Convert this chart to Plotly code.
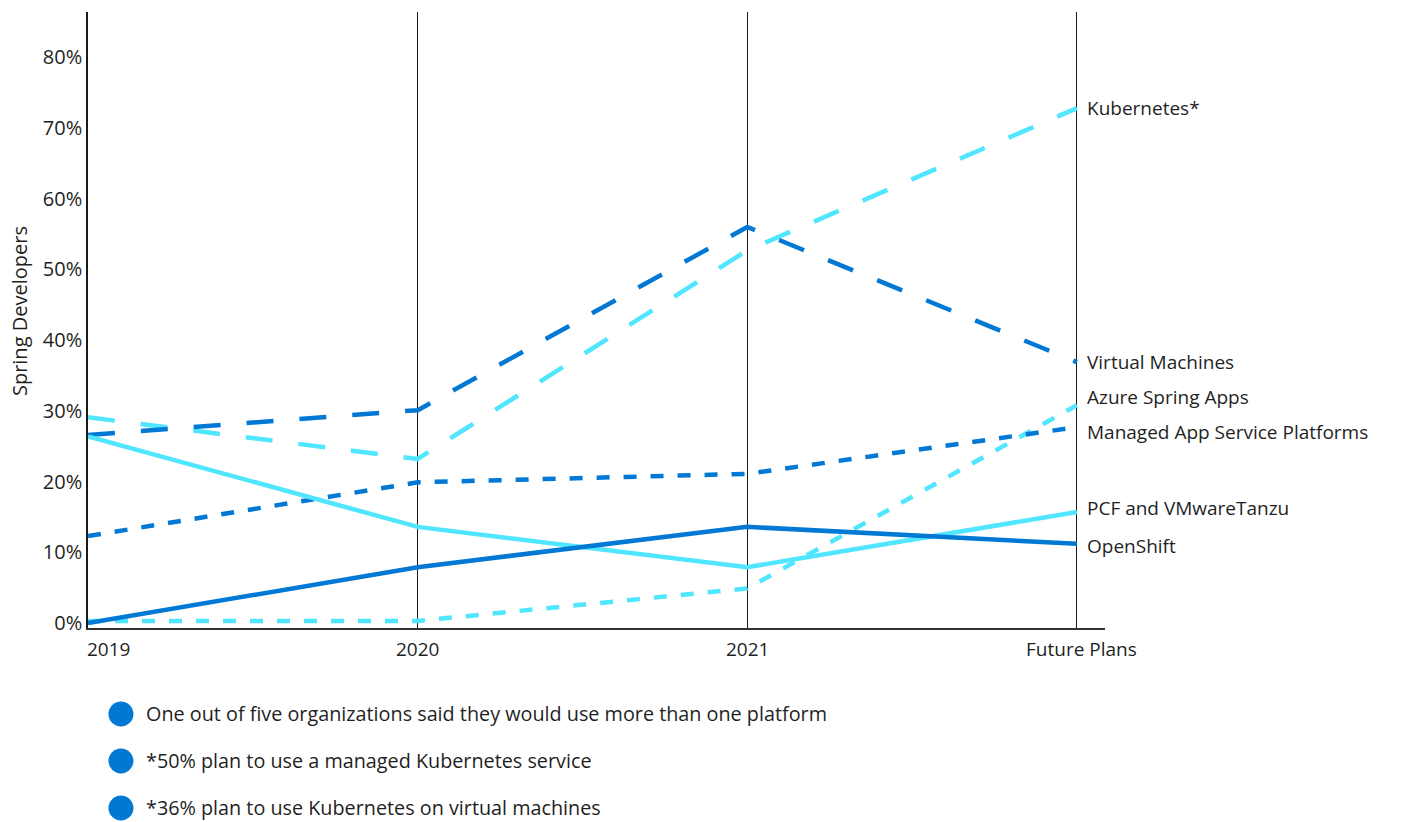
import plotly.graph_objects as go

# ---------------- data ----------------
categories = ["2019", "2020", "2021", "Future Plans"]
series_names = ["Kubernetes*", "Virtual Machines", "Azure Spring Apps",
                "Managed App Service Platforms", "PCF and VMwareTanzu", "OpenShift"]
kubernetes = [29.1, 23.2, 52.7, 72.8]
virtual_machines = [26.6, 30.1, 56.0, 36.9]
azure_spring_apps = [0.3, 0.3, 4.9, 30.8]
managed_app_service = [12.3, 19.9, 21.1, 27.7]
pcf_tanzu = [26.4, 13.6, 7.9, 15.7]
openshift = [0.0, 7.9, 13.6, 11.2]
y_tick_values = [0, 10, 20, 30, 40, 50, 60, 70, 80]
y_tick_labels = ["0%", "10%", "20%", "30%", "40%", "50%", "60%", "70%", "80%"]
notes = [
    "One out of five organizations said they would use more than one platform",
    "*50% plan to use a managed Kubernetes service",
    "*36% plan to use Kubernetes on virtual machines",
]

# ---------------- styles ----------------
DARK = "#0078D4"
CYAN = "#50E6FF"
TEXT = "#1f1f1f"
FONT = "Open Sans, Noto Sans, sans-serif"
LONG = "27px,26px"
SHORT = "13px,14px"

series = [
    (series_names[0], kubernetes, CYAN, LONG, 0),
    (series_names[1], virtual_machines, DARK, LONG, 0),
    (series_names[2], azure_spring_apps, CYAN, SHORT, 8),
    (series_names[3], managed_app_service, DARK, SHORT, -5),
    (series_names[4], pcf_tanzu, CYAN, "solid", 4),
    (series_names[5], openshift, DARK, "solid", -2),
]

x_pos = list(range(len(categories)))

fig = go.Figure()
for name, vals, color, dash, _ in series:
    fig.add_trace(go.Scatter(
        x=x_pos, y=vals, mode="lines", name=name,
        line=dict(color=color, width=4.5, dash=dash),
        showlegend=False, hoverinfo="skip",
    ))

annotations = []
# right-side series labels
for name, vals, color, dash, yshift in series:
    annotations.append(dict(
        x=x_pos[-1], y=vals[-1], xref="x", yref="y", text=name,
        showarrow=False, xanchor="left", yanchor="middle",
        xshift=8, yshift=yshift,
        font=dict(family=FONT, size=19, color=TEXT),
    ))

# x category labels
for i, cat in enumerate(categories):
    annotations.append(dict(
        x=x_pos[i], y=-0.034, xref="x", yref="paper", text=cat,
        showarrow=False, xanchor="left" if i == 0 else "center",
        yanchor="middle", xshift=-3 if i == 0 else (5 if i == len(categories) - 1 else 0),
        font=dict(family=FONT, size=19, color=TEXT),
    ))

# y axis title
annotations.append(dict(
    x=-0.0678, y=0.5146, xref="paper", yref="paper", text="Spring Developers",
    textangle=-90, showarrow=False, xanchor="center", yanchor="middle",
    font=dict(family=FONT, size=20, color=TEXT),
))

# footnotes
shapes = []
note_y = [-0.1396, -0.2159, -0.2922]
for txt, ny in zip(notes, note_y):
    shapes.append(dict(
        type="circle", xref="paper", yref="paper",
        xsizemode="pixel", ysizemode="pixel",
        xanchor=0.0324, yanchor=ny,
        x0=-12.5, x1=12.5, y0=-12.5, y1=12.5,
        fillcolor=DARK, line=dict(width=0),
    ))
    annotations.append(dict(
        x=0.0555, y=ny, xref="paper", yref="paper", text=txt,
        showarrow=False, xanchor="left", yanchor="middle",
        font=dict(family=FONT, size=19.8, color=TEXT),
    ))

fig.update_layout(
    width=1402, height=822,
    margin=dict(l=88, r=297, t=12, b=194),
    paper_bgcolor="white", plot_bgcolor="white",
    font=dict(family=FONT, size=19, color=TEXT),
    annotations=annotations, shapes=shapes,
    xaxis=dict(
        range=[0, 3.085], tickvals=x_pos, showticklabels=False,
        showgrid=True, gridcolor="#1a1a1a", gridwidth=1,
        showline=True, linecolor="#333333", linewidth=1.5,
        zeroline=False, ticks="", fixedrange=True,
    ),
    yaxis=dict(
        range=[-0.7, 86.4], tickvals=y_tick_values, ticktext=y_tick_labels,
        showgrid=False, zeroline=False, showline=True,
        linecolor="#1a1a1a", linewidth=1.5, ticks="",
        tickfont=dict(family=FONT, size=20, color=TEXT),
        fixedrange=True,
    ),
)

fig.write_html("out.html")
